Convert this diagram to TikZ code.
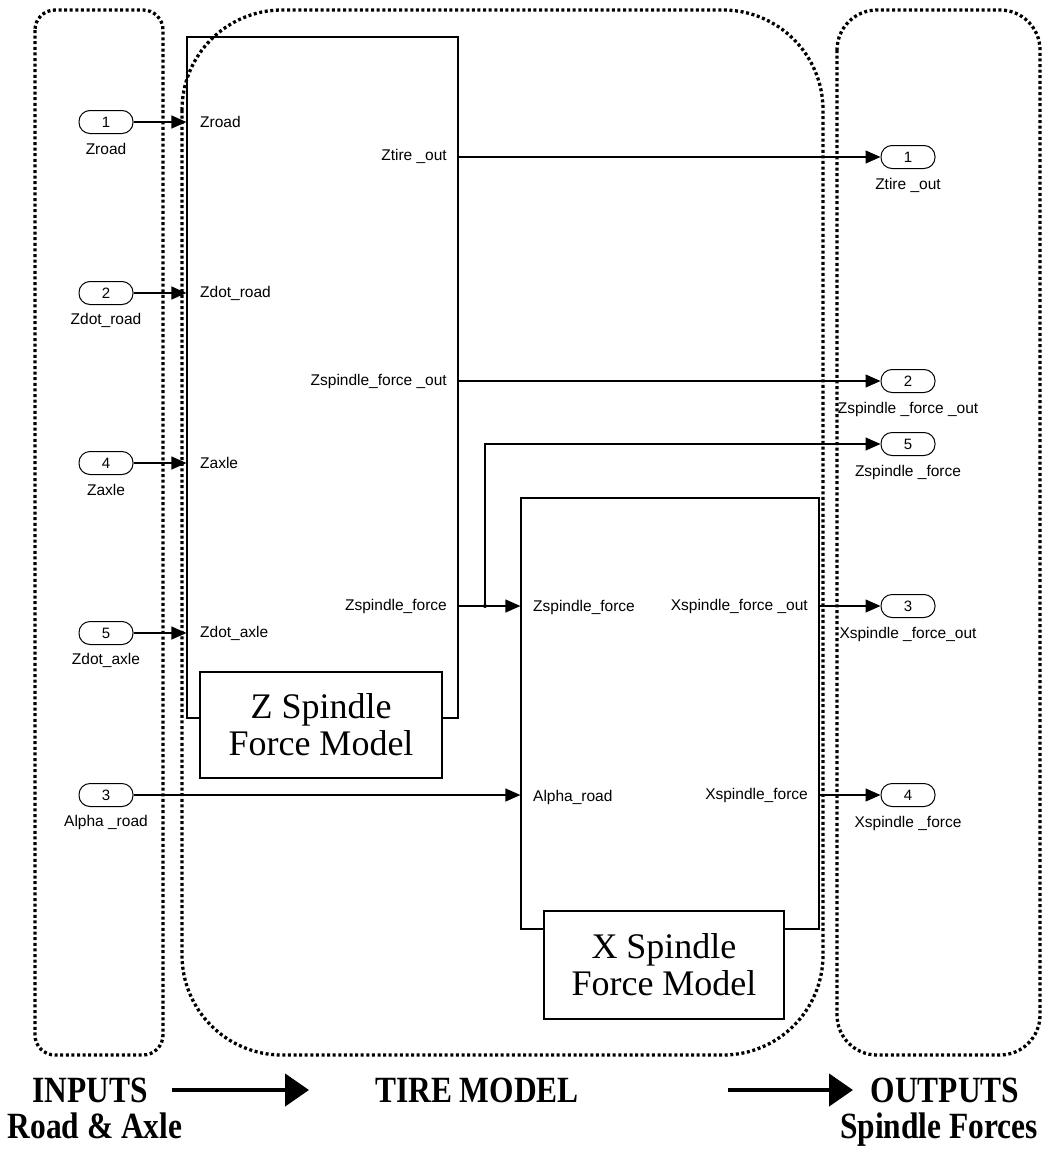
\documentclass[tikz,border=0pt]{standalone}
\usepackage{fontspec}
\usepackage{graphicx}
\setmainfont{Liberation Serif}
\setsansfont{Liberation Sans}
\usetikzlibrary{arrows.meta,calc}
\begin{document}
\begin{tikzpicture}[x=1pt,y=-1pt,
  grp/.style={draw, line width=3.3pt, dash pattern=on 3pt off 2.6pt},
  port/.style={draw, line width=1pt, rounded corners=11pt, minimum width=54pt, minimum height=23pt, inner sep=0pt, font=\sffamily\fontsize{15}{15}\selectfont},
  plab/.style={font=\sffamily\fontsize{15.5}{16}\selectfont, inner sep=0pt},
  blk/.style={draw, line width=1.2pt, inner sep=0pt},
  sig/.style={line width=1.2pt, -{Triangle[length=15pt,width=13pt]}},
  lbox/.style={draw, fill=white, line width=1.2pt, align=center, inner sep=0pt, font=\fontsize{36}{37}\selectfont},
  big/.style={font=\bfseries\fontsize{37}{37}\selectfont, inner sep=0pt, anchor=base},
  bigarrow/.style={line width=4.5pt, -{Triangle[length=24pt,width=32pt]}}
]
\useasboundingbox (0,0) rectangle (1045,1151);

% group outlines
\draw[grp, rounded corners=20pt] (35,10) rectangle (163,1055);
\draw[grp, rounded corners=100pt] (182,10) rectangle (823,1055);
\draw[grp, rounded corners=40pt] (837,10) rectangle (1040,1055);

% subsystem blocks
\node[blk, minimum width=271pt, minimum height=681pt] (Zb) at (322.5,377.5) {};
\node[blk, minimum width=298pt, minimum height=431pt] (Xb) at (670,713.5) {};
\node[lbox, minimum width=242pt, minimum height=106pt] (Zl) at (321,725) {Z Spindle\\Force Model};
\node[lbox, minimum width=240pt, minimum height=108pt] (Xl) at (664,965) {X Spindle\\Force Model};

% Z block port labels
\node[plab, anchor=west] (zi1) at (200,122) {Zroad};
\node[plab, anchor=west] (zi2) at (200,293) {Zdot\_road};
\node[plab, anchor=west] (zi3) at (200,463) {Zaxle};
\node[plab, anchor=west] (zi4) at (200,633) {Zdot\_axle};
\node[plab, anchor=east] (zo1) at (447,156) {Ztire \_out};
\node[plab, anchor=east] (zo2) at (447,381) {Zspindle\_force \_out};
\node[plab, anchor=east] (zo3) at (447,606) {Zspindle\_force};

% X block port labels
\node[plab, anchor=west] (xi1) at (533,607) {Zspindle\_force};
\node[plab, anchor=west] (xi2) at (533,797) {Alpha\_road};
\node[plab, anchor=east] (xo1) at (808,606) {Xspindle\_force \_out};
\node[plab, anchor=east] (xo2) at (808,795) {Xspindle\_force};

% inports
\node[port] (in1) at (106,122) {1};
\node[plab] (in1l) at (106,149) {Zroad};
\node[port] (in2) at (106,293) {2};
\node[plab] (in2l) at (106,320) {Zdot\_road};
\node[port] (in4) at (106,463) {4};
\node[plab] (in4l) at (106,490) {Zaxle};
\node[port] (in5) at (106,633) {5};
\node[plab] (in5l) at (106,660) {Zdot\_axle};
\node[port] (in3) at (106,795) {3};
\node[plab] (in3l) at (106,822) {Alpha \_road};

% outports
\node[port] (out1) at (908,157) {1};
\node[plab] (out1l) at (908,185) {Ztire \_out};
\node[port] (out2) at (908,381) {2};
\node[plab] (out2l) at (908,409) {Zspindle \_force \_out};
\node[port] (out5) at (908,444) {5};
\node[plab] (out5l) at (908,472) {Zspindle \_force};
\node[port] (out3) at (908,606) {3};
\node[plab] (out3l) at (908,634) {Xspindle \_force\_out};
\node[port] (out4) at (908,795) {4};
\node[plab] (out4l) at (908,823) {Xspindle \_force};

% signals
\draw[sig] (in1.east) -- (in1.east -| Zb.west);
\draw[sig] (in2.east) -- (in2.east -| Zb.west);
\draw[sig] (in4.east) -- (in4.east -| Zb.west);
\draw[sig] (in5.east) -- (in5.east -| Zb.west);
\draw[sig] (in3.east) -- (in3.east -| Xb.west);
\draw[sig] (Zb.east |- out1.west) -- (out1.west);
\draw[sig] (Zb.east |- out2.west) -- (out2.west);
\coordinate (j) at (485,606);
\draw[sig] (Zb.east |- j) -- (j -| Xb.west);
\draw[sig] (j) |- (out5.west);
\fill (j) circle (2pt);
\draw[sig] (Xb.east |- out3.west) -- (out3.west);
\draw[sig] (Xb.east |- out4.west) -- (out4.west);

% bottom captions
\node[big] (inp) at (90,1102) {\scalebox{0.85}[1]{INPUTS}};
\node[big] (inp2) at (95,1138) {\scalebox{0.85}[1]{Road \& Axle}};
\node[big] (tire) at (477,1102) {\scalebox{0.85}[1]{TIRE MODEL}};
\node[big] (outp) at (945,1102) {\scalebox{0.85}[1]{OUTPUTS}};
\node[big] (outp2) at (939,1138) {\scalebox{0.85}[1]{Spindle Forces}};
\coordinate (a1s) at (172,1090);
\coordinate (a1e) at (309,1090);
\coordinate (a2s) at (728,1090);
\coordinate (a2e) at (853,1090);
\draw[bigarrow] (a1s) -- (a1e);
\draw[bigarrow] (a2s) -- (a2e);
\end{tikzpicture}
\end{document}
